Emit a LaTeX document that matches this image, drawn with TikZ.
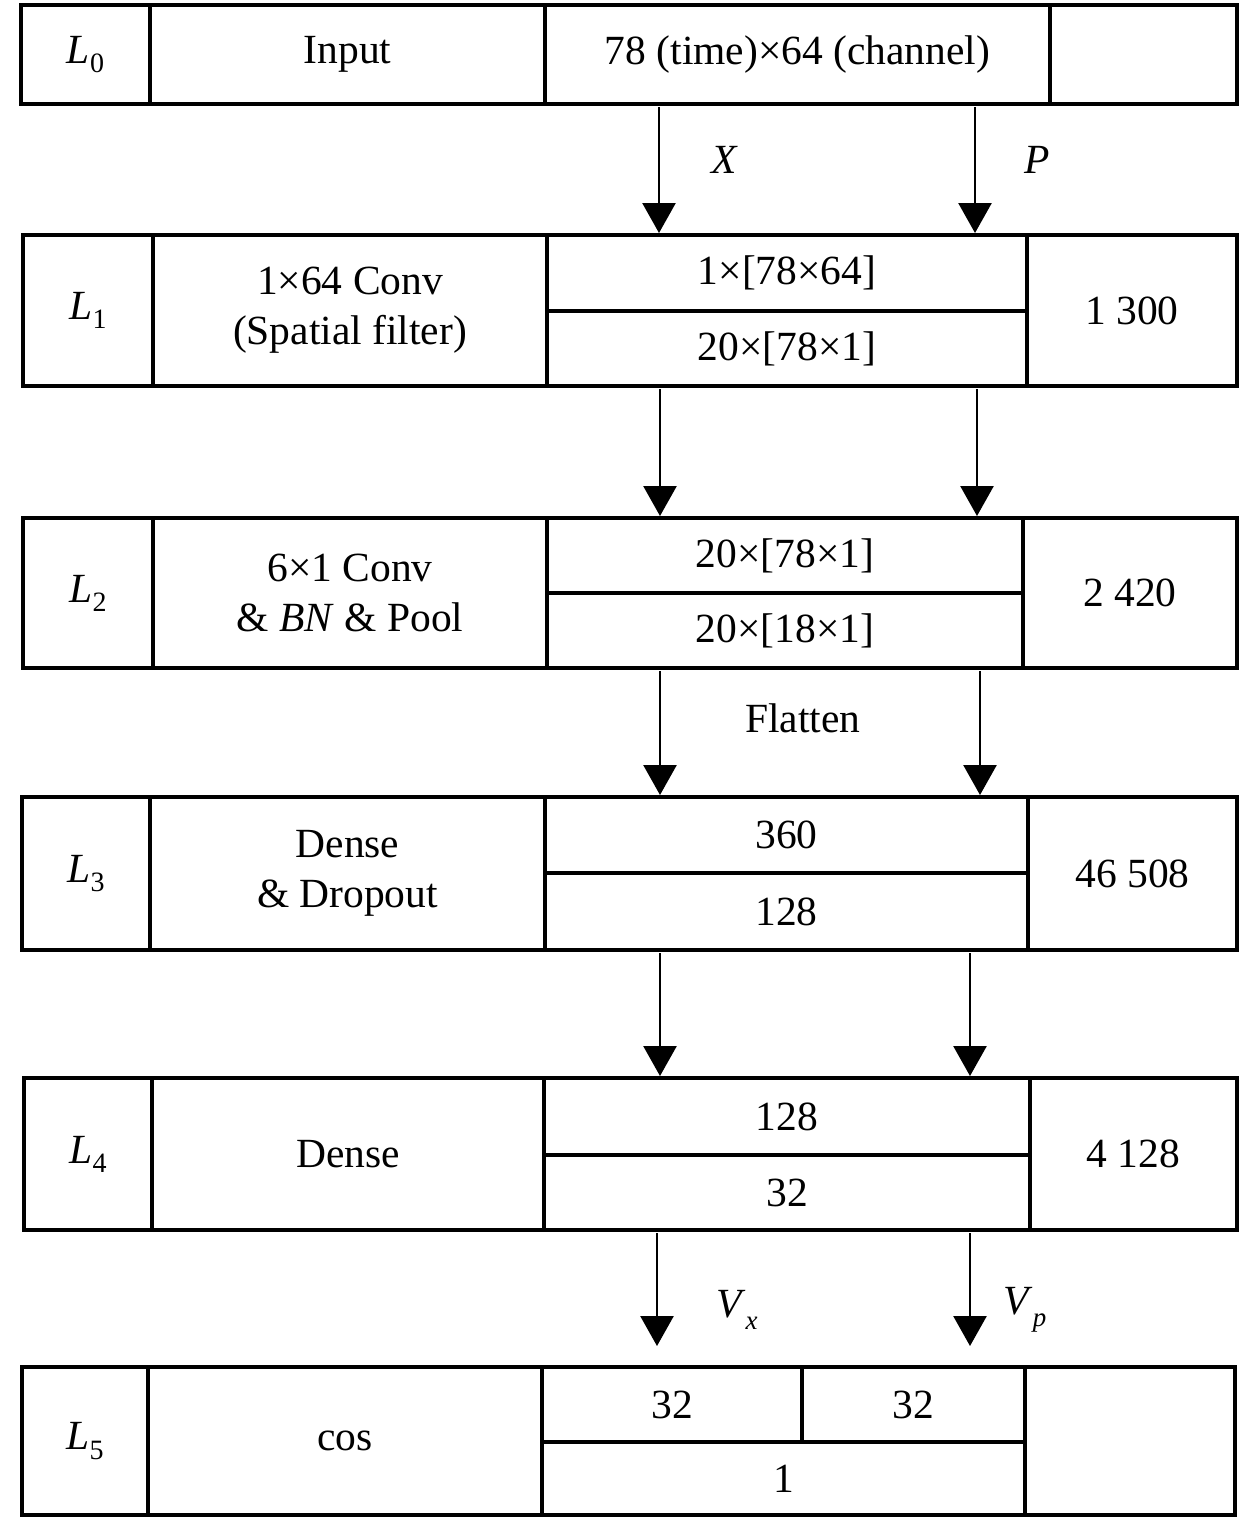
\documentclass[tikz,border=0pt]{standalone}
\usepackage{fontspec}
\setmainfont{Liberation Serif}
\usetikzlibrary{arrows.meta}
\newcommand\Lab[1]{\textit{L}\raisebox{-0.22em}{\fontsize{28}{28}\selectfont #1}}
\newcommand\Vsub[1]{\textit{V}\raisebox{-0.3em}{\fontsize{27}{27}\selectfont\textit{#1}}}
\newcommand\cellat[6]{\node[cellbox,minimum width={#4pt-#2pt},minimum height={#5pt-#3pt}] (#1) at ({(#2+#4)/2},{(#3+#5)/2}) {#6};}
\tikzset{
  cellbox/.style={draw=black,line width=4pt,inner sep=0pt,outer sep=0pt,align=center,font=\fontsize{41.5}{50}\selectfont},
  arr/.style={line width=2.6pt,-{Triangle[length=30pt,width=33pt]},shorten <=3pt,shorten >=2pt},
  lbl/.style={font=\fontsize{41.5}{50}\selectfont,inner sep=0pt}
}
\begin{document}
\begin{tikzpicture}[x=1pt,y=-1pt]
\path[use as bounding box,fill=white] (0,0) rectangle (1260,1524);
% L0
\cellat{l0a}{21}{5}{150}{104}{\Lab{0}}
\cellat{l0b}{150}{5}{545}{104}{Input}
\cellat{l0c}{545}{5}{1050}{104}{78 (time)×64 (channel)}
\cellat{l0d}{1050}{5}{1237}{104}{}
% L1
\cellat{l1a}{23}{235}{153}{386}{\Lab{1}}
\cellat{l1b}{153}{235}{547}{386}{1×64 Conv\\(Spatial filter)}
\cellat{l1t}{547}{235}{1027}{311}{1×[78×64]}
\cellat{l1u}{547}{311}{1027}{386}{20×[78×1]}
\cellat{l1d}{1027}{235}{1237}{386}{1 300}
% L2
\cellat{l2a}{23}{518}{153}{668}{\Lab{2}}
\cellat{l2b}{153}{518}{547}{668}{6×1 Conv\\\& \textit{BN} \& Pool}
\cellat{l2t}{547}{518}{1023}{593}{20×[78×1]}
\cellat{l2u}{547}{593}{1023}{668}{20×[18×1]}
\cellat{l2d}{1023}{518}{1237}{668}{2 420}
% L3
\cellat{l3a}{22}{797}{150}{950}{\Lab{3}}
\cellat{l3b}{150}{797}{545}{950}{Dense\\\& Dropout}
\cellat{l3t}{545}{797}{1028}{873}{360}
\cellat{l3u}{545}{873}{1028}{950}{128}
\cellat{l3d}{1028}{797}{1237}{950}{46 508}
% L4
\cellat{l4a}{24}{1078}{152}{1230}{\Lab{4}}
\cellat{l4b}{152}{1078}{544}{1230}{Dense}
\cellat{l4t}{544}{1078}{1030}{1155}{128}
\cellat{l4u}{544}{1155}{1030}{1230}{32}
\cellat{l4d}{1030}{1078}{1237}{1230}{4 128}
% L5
\cellat{l5a}{22}{1367}{148}{1515}{\Lab{5}}
\cellat{l5b}{148}{1367}{542}{1515}{cos}
\cellat{l5t}{542}{1367}{802}{1442}{32}
\cellat{l5s}{802}{1367}{1025}{1442}{32}
\cellat{l5u}{542}{1442}{1025}{1515}{1}
\cellat{l5d}{1025}{1367}{1235}{1515}{}
% arrow columns
\coordinate (a1) at (659,0);  \coordinate (b1) at (975,0);
\coordinate (a2) at (660,0);  \coordinate (b2) at (977,0);
\coordinate (a3) at (660,0);  \coordinate (b3) at (980,0);
\coordinate (a4) at (660,0);  \coordinate (b4) at (970,0);
\coordinate (a5) at (657,0);  \coordinate (b5) at (970,0);
\draw[arr] (a1 |- l0c.south) -- (a1 |- l1t.north);
\draw[arr] (b1 |- l0c.south) -- (b1 |- l1t.north);
\draw[arr] (a2 |- l1u.south) -- (a2 |- l2t.north);
\draw[arr] (b2 |- l1u.south) -- (b2 |- l2t.north);
\draw[arr] (a3 |- l2u.south) -- (a3 |- l3t.north);
\draw[arr] (b3 |- l2u.south) -- (b3 |- l3t.north);
\draw[arr] (a4 |- l3u.south) -- (a4 |- l4t.north);
\draw[arr] (b4 |- l3u.south) -- (b4 |- l4t.north);
\draw[arr] (a5 |- l4u.south) -- ++(0,118);
\draw[arr] (b5 |- l4u.south) -- ++(0,118);
% labels
\node[lbl] (lx) at (725,160) {\textit{X}};
\node[lbl] (lp) at (1037,160) {\textit{P}};
\node[lbl] (lf) at (803,718) {Flatten};
\node[lbl] (lvx) at (737,1310) {\Vsub{x}};
\node[lbl] (lvp) at (1025,1310) {\Vsub{p}};
\end{tikzpicture}
\end{document}
